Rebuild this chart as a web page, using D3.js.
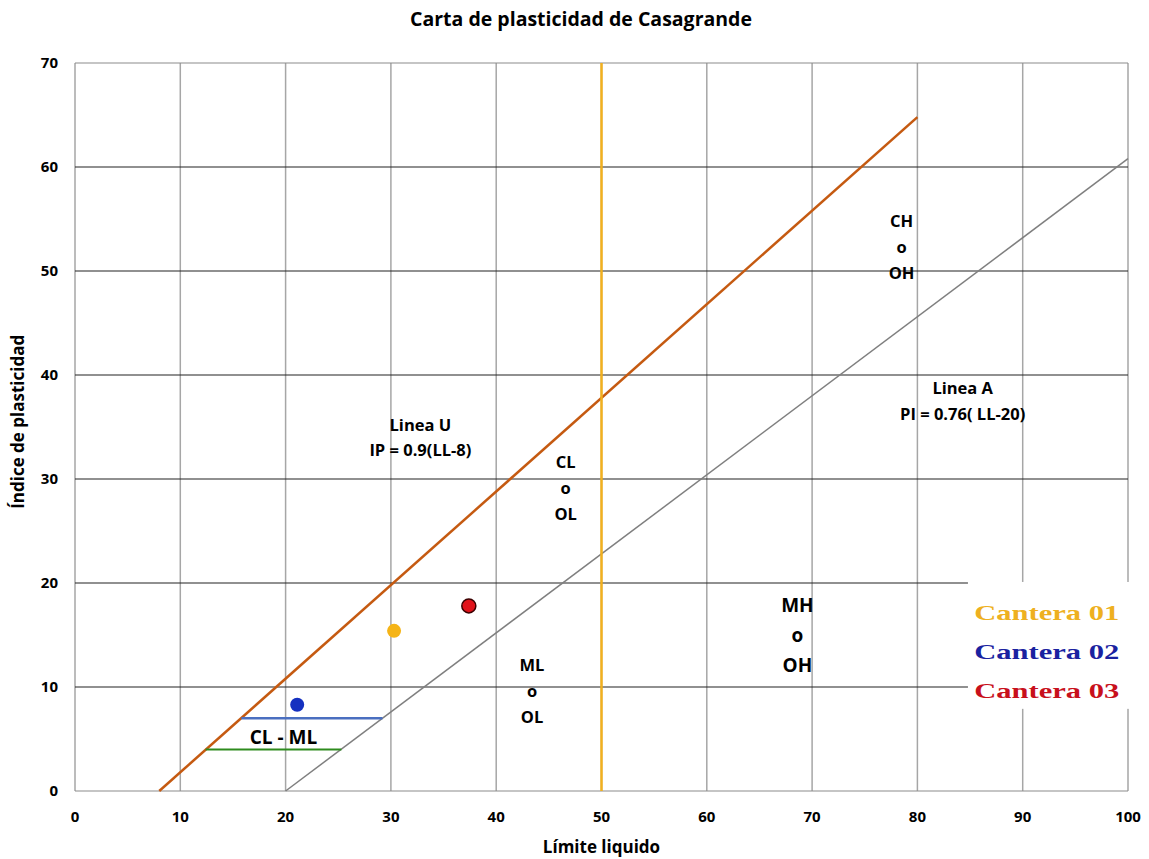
<!DOCTYPE html>
<html>
<head>
  <meta charset='utf-8'>
  <title>Carta de plasticidad</title>
  <style>
    body { margin: 0; background: #fff; }
    text { font-family: 'Open Sans', sans-serif; }
  </style>
</head>
<body>
<div id="chart"></div>
<script src="https://cdnjs.cloudflare.com/ajax/libs/d3/7.8.5/d3.min.js"></script>
<script>

var xTicks = [0, 10, 20, 30, 40, 50, 60, 70, 80, 90, 100];
var yTicks = [0, 10, 20, 30, 40, 50, 60, 70];

// samples: limite liquido, indice de plasticidad
var canteras = ['Cantera 01', 'Cantera 02', 'Cantera 03'];
var canteraLL = [30.3, 21.1, 37.4];
var canteraIP = [15.4, 8.3, 17.8];
var canteraColor = ['#f5b417', '#1530c0', '#e0121a'];
var legendColor = ['#eeb020', '#1a22a0', '#c8101c'];

// reference lines (LL, IP)
var lineaU = [[8, 0], [80, 64.8]];
var lineaA = [[20, 0], [100, 60.8]];
var lineaB = [[50, 0], [50, 70]];
var bandaCLML = [[[15.8, 7], [29.2, 7]], [[12.4, 4], [25.3, 4]]];

var width = 1149, height = 859;
var margin = {left: 75, right: 21, top: 63, bottom: 68};

var svg = d3.select('#chart').append('svg')
  .attr('width', width)
  .attr('height', height);

var x = d3.scaleLinear().domain([0, 100]).range([margin.left, width - margin.right]);
var y = d3.scaleLinear().domain([0, 70]).range([height - margin.bottom, margin.top]);

// vertical grid
svg.append('g').selectAll('line')
  .data(xTicks)
  .enter().append('line')
    .attr('x1', function(d) { return x(d); })
    .attr('x2', function(d) { return x(d); })
    .attr('y1', y(0)).attr('y2', y(70))
    .attr('stroke', '#a6a6a6')
    .attr('stroke-width', 1.5);

// horizontal grid (dark)
svg.append('g').selectAll('line')
  .data(yTicks)
  .enter().append('line')
    .attr('x1', x(0))
    .attr('x2', x(100))
    .attr('y1', function(d) { return y(d); })
    .attr('y2', function(d) { return y(d); })
    .attr('stroke', function(d) { return (d === 0 || d === 70) ? '#8c8c8c' : '#222'; })
    .attr('stroke-width', 1.2);

// tick labels
svg.append('g').selectAll('text')
  .data(xTicks)
  .enter().append('text')
    .attr('x', function(d) { return x(d); })
    .attr('y', y(0) + 31)
    .attr('text-anchor', 'middle')
    .attr('font-size', 15)
    .attr('font-weight', 'bold')
    .text(function(d) { return d; });

svg.append('g').selectAll('text')
  .data(yTicks)
  .enter().append('text')
    .attr('x', x(0) - 17)
    .attr('y', function(d) { return y(d) + 5; })
    .attr('text-anchor', 'end')
    .attr('font-size', 15)
    .attr('font-weight', 'bold')
    .text(function(d) { return d; });

var line = d3.line()
  .x(function(d) { return x(d[0]); })
  .y(function(d) { return y(d[1]); });

svg.append('path').datum(lineaA).attr('d', line)
  .attr('fill', 'none').attr('stroke', '#7f7f7f').attr('stroke-width', 1.5);
svg.append('path').datum(lineaU).attr('d', line)
  .attr('fill', 'none').attr('stroke', '#c55a11').attr('stroke-width', 2.5);
svg.append('path').datum(lineaB).attr('d', line)
  .attr('fill', 'none').attr('stroke', '#f2b01e').attr('stroke-width', 2.5);
svg.append('path').datum(bandaCLML[0]).attr('d', line)
  .attr('fill', 'none').attr('stroke', '#4a6fc0').attr('stroke-width', 2.5);
svg.append('path').datum(bandaCLML[1]).attr('d', line)
  .attr('fill', 'none').attr('stroke', '#2e8b1e').attr('stroke-width', 2);

// legend box covers part of the grid
var lx = x(84.8), ly = y(20.1);
svg.append('rect')
  .attr('x', lx).attr('y', ly)
  .attr('width', width - lx).attr('height', y(7.9) - ly)
  .attr('fill', '#fff');

svg.append('g').selectAll('text')
  .data(canteras)
  .enter().append('text')
    .attr('x', x(85.4))
    .attr('y', function(d, i) { return y(17) + 6 + i * 39; })
    .style('font-family', "'Liberation Serif', serif")
    .attr('font-size', 21)
    .attr('font-weight', 'bold')
    .attr('textLength', 145)
    .attr('lengthAdjust', 'spacingAndGlyphs')
    .attr('fill', function(d, i) { return legendColor[i]; })
    .text(function(d) { return d; });

// samples
svg.append('g').selectAll('circle')
  .data(canteras)
  .enter().append('circle')
    .attr('cx', function(d, i) { return x(canteraLL[i]); })
    .attr('cy', function(d, i) { return y(canteraIP[i]); })
    .attr('r', 7)
    .attr('fill', function(d, i) { return canteraColor[i]; })
    .attr('stroke', function(d, i) { return i === 2 ? '#3a0000' : 'none'; })
    .attr('stroke-width', 1.5);

// zone labels
function label(lines, lx, ly, size, step) {
  svg.append('g').selectAll('text')
    .data(lines)
    .enter().append('text')
      .attr('x', x(lx))
      .attr('y', function(d, i) { return y(ly) + i * step; })
      .attr('text-anchor', 'middle')
      .attr('font-size', size)
      .attr('font-weight', 'bold')
      .text(function(d) { return d; });
}
label(['Linea U', 'IP = 0.9(LL-8)'], 32.8, 34.6, 16.5, 25);
label(['CL', 'o', 'OL'], 46.6, 31.1, 16.5, 26);
label(['CH', 'o', 'OH'], 78.5, 54.2, 16.5, 26);
label(['Linea A', 'PI = 0.76( LL-20)'], 84.3, 38.2, 16.5, 26);
label(['MH', 'o', 'OH'], 68.6, 17.2, 19, 30);
label(['ML', 'o', 'OL'], 43.4, 11.5, 16.5, 26);
label(['CL - ML'], 19.8, 4.5, 19, 0);

// titles
svg.append('text')
  .attr('x', 581).attr('y', 26)
  .attr('text-anchor', 'middle')
  .attr('font-size', 19.5)
  .attr('font-weight', 'bold')
  .text('Carta de plasticidad de Casagrande');

svg.append('text')
  .attr('x', x(50)).attr('y', height - 6)
  .attr('text-anchor', 'middle')
  .attr('font-size', 17)
  .attr('font-weight', 'bold')
  .text('Límite liquido');

svg.append('text')
  .attr('transform', 'translate(24,' + y(35.5) + ') rotate(-90)')
  .attr('text-anchor', 'middle')
  .attr('font-size', 17)
  .attr('font-weight', 'bold')
  .text('Índice de plasticidad');

</script>
</body>
</html>
